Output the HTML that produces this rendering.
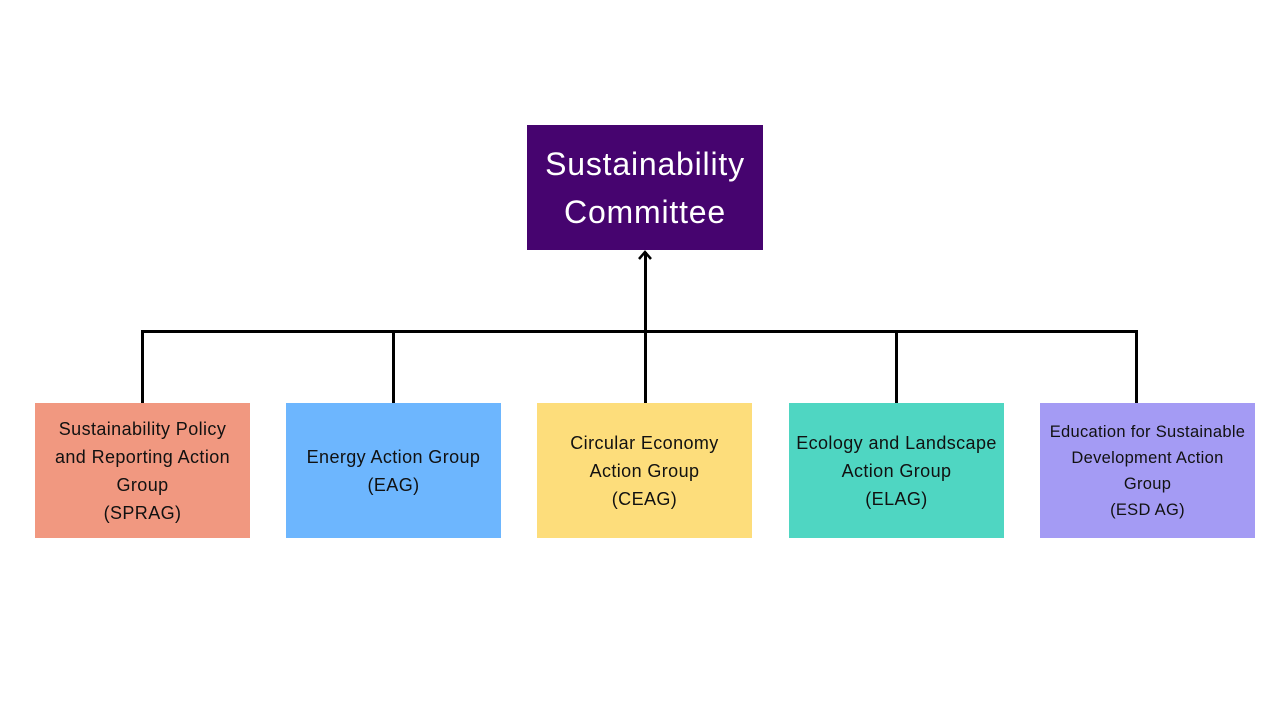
<!DOCTYPE html>
<html><head><style>
body{margin:0;width:1280px;height:720px;background:#fff;position:relative;overflow:hidden;font-family:"Liberation Sans",sans-serif}
.b{position:absolute;display:flex;align-items:center;justify-content:center;text-align:center;color:#111}
.l{position:absolute;background:#000}
</style></head><body>
<div class="b" style="left:527px;top:125px;width:236px;height:125px;background:#46046f;color:#fff;font-size:32px;letter-spacing:0.8px;line-height:48px">Sustainability<br>Committee</div>
<div class="l" style="left:644px;top:252px;width:2.5px;height:152px"></div>
<svg style="position:absolute;left:635px;top:248px" width="20" height="14"><polyline points="4,11 10,4 16,11" fill="none" stroke="#000" stroke-width="2.5"/></svg>
<div class="l" style="left:141px;top:330px;width:996px;height:2.5px"></div>
<div class="l" style="left:141px;top:330px;width:2.5px;height:74px"></div>
<div class="l" style="left:392px;top:330px;width:2.5px;height:74px"></div>
<div class="l" style="left:895px;top:330px;width:2.5px;height:74px"></div>
<div class="l" style="left:1135px;top:330px;width:2.5px;height:74px"></div>
<div class="b" style="left:35px;top:403px;width:215px;height:135px;background:#f19880;font-size:18px;letter-spacing:0.4px;line-height:28px">Sustainability Policy<br>and Reporting Action<br>Group<br>(SPRAG)</div>
<div class="b" style="left:286px;top:403px;width:215px;height:135px;background:#6db6fe;font-size:18px;letter-spacing:0.4px;line-height:28px">Energy Action Group<br>(EAG)</div>
<div class="b" style="left:537px;top:403px;width:215px;height:135px;background:#fddd7b;font-size:18px;letter-spacing:0.4px;line-height:28px">Circular Economy<br>Action Group<br>(CEAG)</div>
<div class="b" style="left:789px;top:403px;width:215px;height:135px;background:#4fd6c2;font-size:18px;letter-spacing:0.4px;line-height:28px">Ecology and Landscape<br>Action Group<br>(ELAG)</div>
<div class="b" style="left:1040px;top:403px;width:215px;height:135px;background:#a49bf4;font-size:16.5px;letter-spacing:0.3px;line-height:26px">Education for Sustainable<br>Development Action<br>Group<br>(ESD AG)</div>
</body></html>
